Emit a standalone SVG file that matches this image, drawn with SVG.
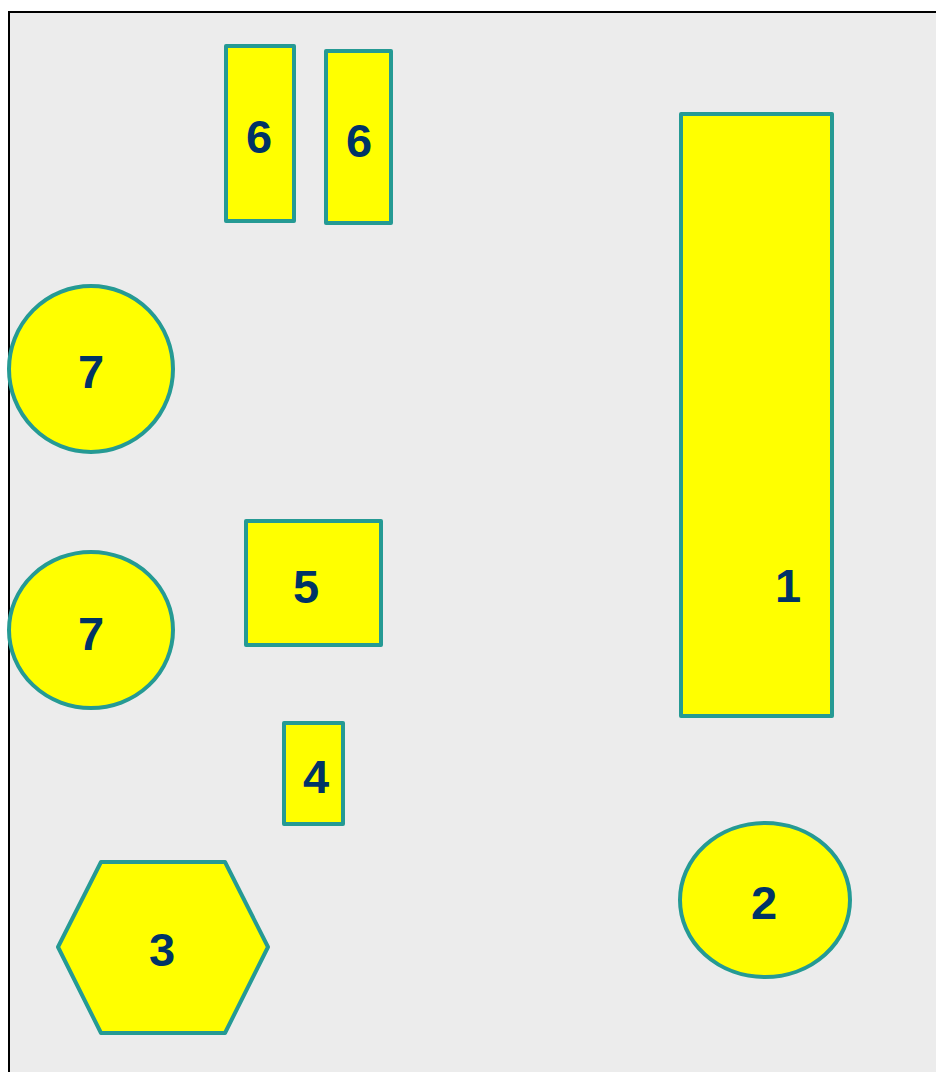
<svg xmlns="http://www.w3.org/2000/svg" width="936" height="1072" viewBox="0 0 936 1072">
<style>
.s{fill:#ffff00;stroke:#259a94;stroke-width:4;stroke-linejoin:round}
.t{font-family:"Liberation Sans",Arial,sans-serif;font-weight:bold;font-size:47px;fill:#003366;text-anchor:middle}
</style>
<rect x="0" y="0" width="936" height="1072" fill="#ffffff"/>
<rect x="9" y="12" width="940" height="1080" fill="#ececec" stroke="#000000" stroke-width="2"/>
<g id="connectors"/>
<g id="n6a"><rect class="s" x="226" y="46" width="68" height="175"/><text class="t" x="259" y="153">6</text></g>
<g id="n6b"><rect class="s" x="326" y="51" width="65" height="172"/><text class="t" x="359" y="157">6</text></g>
<g id="n1"><rect class="s" x="681" y="114" width="151" height="602"/><text class="t" x="788" y="602">1</text></g>
<g id="n7a"><ellipse class="s" cx="91" cy="369" rx="82" ry="83"/><text class="t" x="91" y="388">7</text></g>
<g id="n7b"><ellipse class="s" cx="91" cy="630" rx="82" ry="78"/><text class="t" x="91" y="650">7</text></g>
<g id="n5"><rect class="s" x="246" y="521" width="135" height="124"/><text class="t" x="306" y="603">5</text></g>
<g id="n4"><rect class="s" x="284" y="723" width="59" height="101"/><text class="t" x="316" y="793">4</text></g>
<g id="n3"><polygon class="s" points="58,947 101,862 225,862 268,947 225,1033 101,1033"/><text class="t" x="162" y="966">3</text></g>
<g id="n2"><ellipse class="s" cx="765" cy="900" rx="85" ry="77"/><text class="t" x="764" y="919">2</text></g>
</svg>
